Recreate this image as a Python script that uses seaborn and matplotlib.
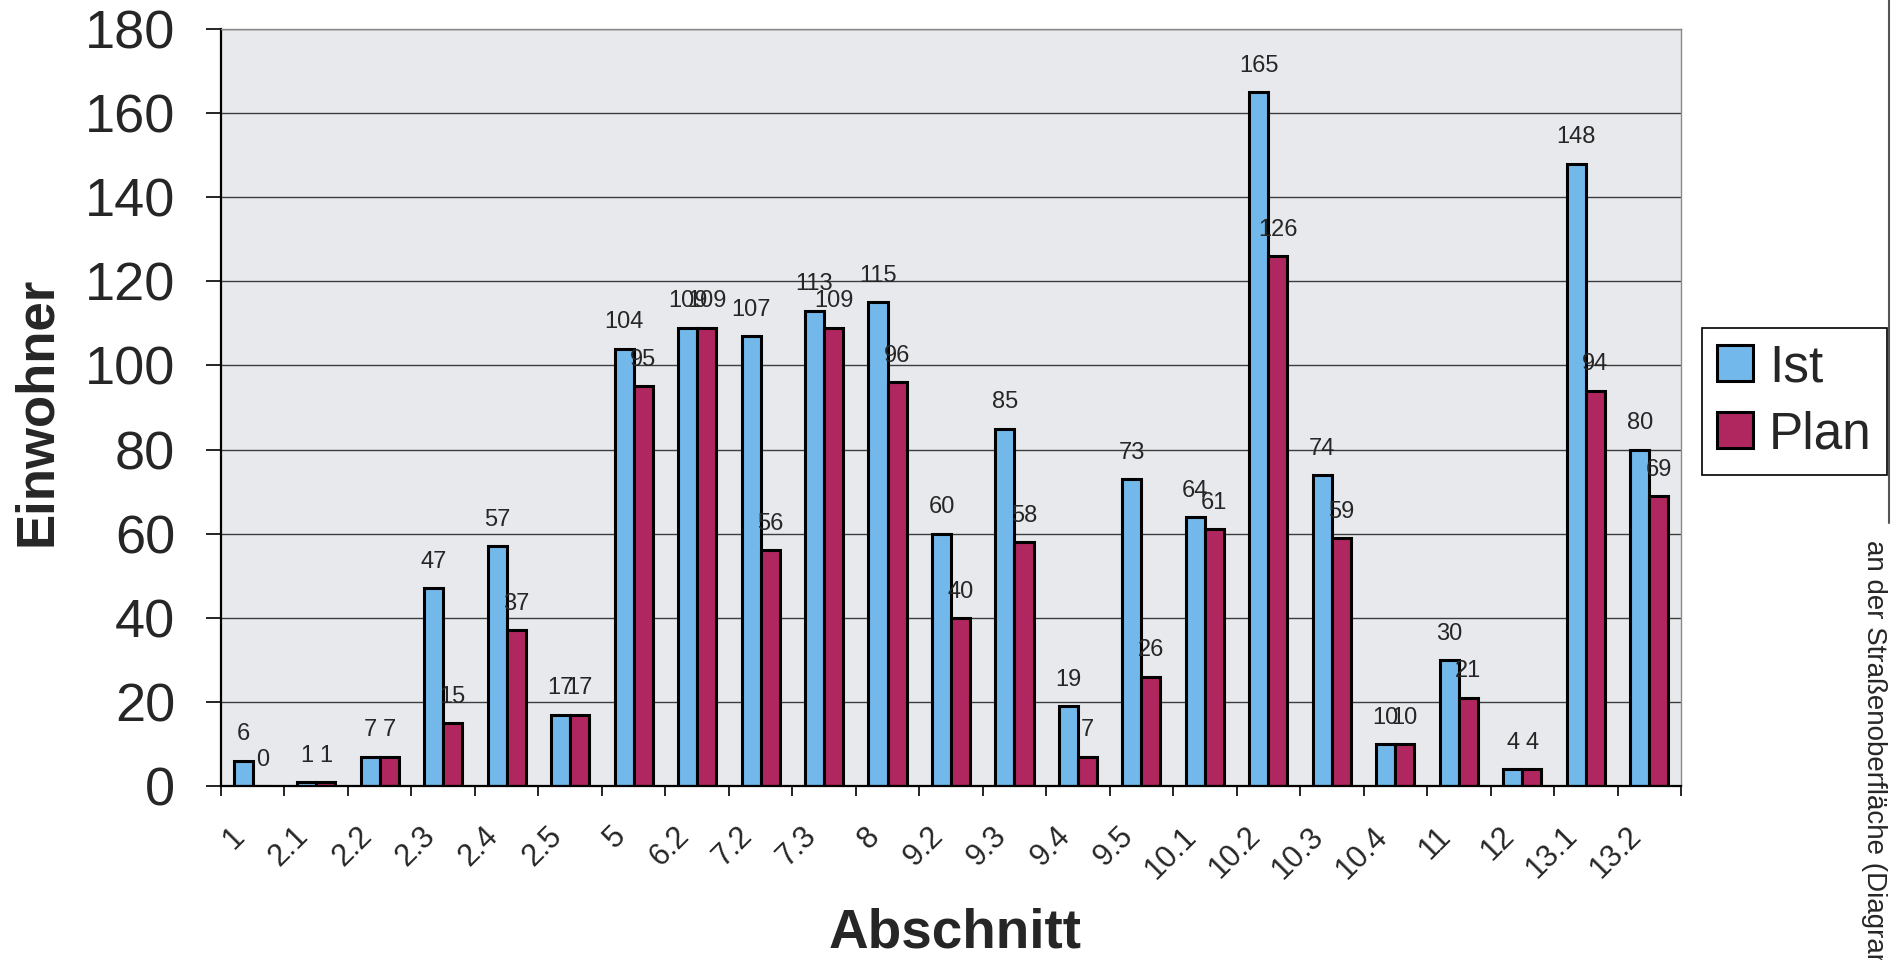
import numpy as np
import pandas as pd
import matplotlib
matplotlib.use("Agg")
import matplotlib.pyplot as plt
import matplotlib.transforms as mtransforms
from matplotlib.lines import Line2D
import seaborn as sns

categories = ["1", "2.1", "2.2", "2.3", "2.4", "2.5", "5", "6.2", "7.2", "7.3", "8",
              "9.2", "9.3", "9.4", "9.5", "10.1", "10.2", "10.3", "10.4", "11", "12",
              "13.1", "13.2"]
ist = [6, 1, 7, 47, 57, 17, 104, 109, 107, 113, 115, 60, 85, 19, 73, 64, 165, 74, 10, 30, 4, 148, 80]
plan = [0, 1, 7, 15, 37, 17, 95, 109, 56, 109, 96, 40, 58, 7, 26, 61, 126, 59, 10, 21, 4, 94, 69]
series_names = ["Ist", "Plan"]
yticks = list(range(0, 181, 20))

sns.set_style("white")
plt.rcParams["font.family"] = ["Liberation Sans", "DejaVu Sans"]

df = pd.DataFrame({
    "Abschnitt": categories * 2,
    "Einwohner": ist + plan,
    "Serie": [series_names[0]] * len(categories) + [series_names[1]] * len(categories),
})

W, H = 1894, 960
L, R, T, B = 221, 1681, 29, 786
fig = plt.figure(figsize=(W / 100, H / 100), dpi=100)
ax = fig.add_axes([L / W, 1 - B / H, (R - L) / W, (B - T) / H])
ax.set_facecolor("#e7e9ed")
ax.set_axisbelow(True)

sns.barplot(data=df, x="Abschnitt", y="Einwohner", hue="Serie", order=categories,
            hue_order=series_names, palette=["#72b8ea", "#b0265e"], width=0.6,
            saturation=1, edgecolor="black", linewidth=2.2, ax=ax, legend=True)

for cont, vals in zip(ax.containers, [ist, plan]):
    ax.bar_label(cont, labels=[str(v) for v in vals], padding=11, fontsize=17)

ax.set_ylim(0, 180)
ax.set_xlim(-0.5, len(categories) - 0.5)
ax.set_yticks(yticks)
ax.set_yticklabels([str(t) for t in yticks], fontsize=39)
ax.yaxis.grid(True, color="#3c3c3c", linewidth=1)
ax.tick_params(axis="y", direction="out", length=11, width=1.2, pad=22, color="black", left=True)

# tick marks at category boundaries, labels at centres
ax.set_xticks(np.arange(-0.5, len(categories), 1))
ax.set_xticklabels([""] * (len(categories) + 1))
ax.tick_params(axis="x", which="major", direction="out", length=7, width=1.2, color="black", bottom=True)
ax.set_xticks(np.arange(len(categories)), minor=True)
ax.set_xticklabels(categories, minor=True, fontsize=22, rotation=45,
                   ha="right", va="center", rotation_mode="anchor")
ax.tick_params(axis="x", which="minor", length=0, pad=33)
off = mtransforms.ScaledTranslation(-9 / 72, 0, fig.dpi_scale_trans)
for lab in ax.get_xticklabels(minor=True):
    lab.set_transform(lab.get_transform() + off)

for side in ["left", "bottom"]:
    ax.spines[side].set_color("black")
    ax.spines[side].set_linewidth(1.6)
for side in ["top", "right"]:
    ax.spines[side].set_color("#8a8a8a")
    ax.spines[side].set_linewidth(1)

ax.set_xlabel("Abschnitt", fontsize=39.5, fontweight="bold")
ax.set_ylabel("Einwohner", fontsize=38, fontweight="bold")
ax.xaxis.set_label_coords((955 - L) / (R - L), (B - 934) / (B - T))
ax.xaxis.label.set_va("center")
ax.yaxis.set_label_coords((37 - L) / (R - L), (B - 411) / (B - T))
ax.yaxis.label.set_va("center")

handles, labels = ax.get_legend_handles_labels()
ax.legend_.remove()
leg = fig.legend(handles, labels, loc="upper left", bbox_to_anchor=(1702 / W, 1 - 328 / H),
                 bbox_transform=fig.transFigure, fontsize=37, frameon=True, fancybox=False,
                 edgecolor="black", facecolor="white", framealpha=1, borderpad=0.3,
                 handlelength=0.7, handleheight=0.7, handletextpad=0.3, labelspacing=0.35,
                 borderaxespad=0)
leg.get_frame().set_linewidth(1.2)

fig.text(1874 / W, 1 - 540 / H, "an der Straßenoberfläche (Diagramm",
         rotation=270, ha="center", va="top", fontsize=20)
fig.add_artist(Line2D([0.9975, 0.9975], [1.0, 0.455], transform=fig.transFigure,
                      color="#555555", linewidth=1.5))

fig.savefig("out.png", dpi=100, facecolor="white")
